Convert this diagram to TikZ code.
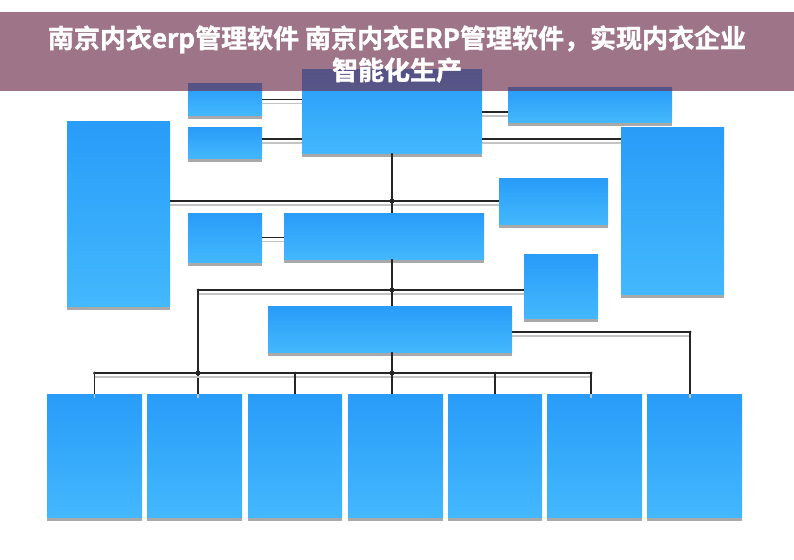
\documentclass[tikz,border=0pt]{standalone}
\usepackage{fontspec}
\newfontfamily\cjk{Noto Sans CJK SC}[BoldFont={* Bold}, BoldFeatures={FakeBold=1.3}]
\usetikzlibrary{calc}
\definecolor{boxtop}{HTML}{289CF8}
\definecolor{boxbot}{HTML}{43B8FD}
\definecolor{shadowgray}{HTML}{A9A9A9}
\definecolor{linedark}{HTML}{262626}
\definecolor{linegray}{HTML}{C4C4C4}
\definecolor{bannercol}{RGB}{109,45,75}
\tikzset{
  box/.style={rectangle, inner sep=0pt, outer sep=0pt, draw=none, top color=boxtop, bottom color=boxbot},
  conn/.style={draw=linedark, line width=1.3pt, preaction={draw=linegray, line width=1.8pt, transform canvas={yshift=-4pt}}},
  vconn/.style={draw=linedark, line width=1.3pt},
  bigdot/.style={circle, fill=linedark, inner sep=0pt, minimum size=5pt},
  smalldot/.style={circle, fill=linedark, inner sep=0pt, minimum size=3pt},
}
\newcommand\bx[5]{%
  \fill[shadowgray] (#2,#5) rectangle (#4,{#5+4});
  \node[box, minimum width={(#4-#2)*1pt}, minimum height={(#5-#3)*1pt}] (#1) at ({(#2+#4)/2},{(#3+#5)/2}) {};
}
\begin{document}
\begin{tikzpicture}[x=1pt,y=-1pt]
\useasboundingbox (0,0) rectangle (794,559);
\fill[white] (0,0) rectangle (794,559);
% boxes
\bx{top}{302}{70}{482}{153}
\bx{s1}{188}{84}{262}{115}
\bx{s2}{188}{127}{262}{158}
\bx{tr}{508}{88}{672}{122}
\bx{rt}{621}{127}{724}{294}
\bx{lt}{67}{121}{170}{306}
\bx{mr}{499}{178}{608}{224}
\bx{ml}{188}{213}{262}{262}
\bx{mc}{284}{213}{484}{259}
\bx{rm}{524}{254}{598}{318}
\bx{lw}{268}{306}{512}{352}
\bx{b1}{47}{394}{142}{517}
\bx{b2}{147}{394}{242}{517}
\bx{b3}{248}{394}{342}{517}
\bx{b4}{348}{394}{443}{517}
\bx{b5}{448}{394}{542}{517}
\bx{b6}{547}{394}{642}{517}
\bx{b7}{647}{394}{742}{517}
% helper coordinates
\coordinate (l2) at ($(s2.east)+(0,-3.5)$);
\coordinate (l3) at ($(top.east)+(0,0.5)$);
\coordinate (l9) at ($(rm.west)+(0,4)$);
\coordinate (l12) at ($(lw.east)+(0,3)$);
\coordinate (d2) at ($(b2.north)+(3.5,0)$);
\coordinate (d6) at ($(b6.north)+(-3.5,0)$);
\coordinate (d7) at ($(b7.north)+(-4.5,0)$);
\coordinate (bus) at (0,373);
% connectors
\draw[conn] (s1.east) -- (s1.east -| top.west);
\draw[conn] (l2) -- (l2 -| top.west);
\draw[conn] (l3) -- (l3 -| tr.west);
\draw[conn] (l2 -| top.east) -- (l2 -| rt.west);
\draw[conn] (mr.west -| lt.east) -- (mr.west);
\draw[conn] (ml.east) -- (ml.east -| mc.west);
\draw[conn] (l9) -- (l9 -| d2) -- (d2);
\draw[conn] (l12) -- (l12 -| d7) -- (d7);
\draw[conn] (b1.north) -- (b1.north |- bus) -- (d6 |- bus) -- (d6);
\draw[vconn] (b3.north |- bus) -- (b3.north);
\draw[vconn] (b5.north |- bus) -- (b5.north);
\draw[vconn] (top.south) -- (top.south |- mc.north);
\draw[vconn] (top.south |- mc.south) -- (top.south |- lw.north);
\draw[vconn] (top.south |- lw.south) -- (top.south |- b4.north);
% junction dots
\node[bigdot] (j1) at (top.south |- mr.west) {};
\node[bigdot] (j2) at (top.south |- l9) {};
\node[bigdot] (j3) at (d2 |- bus) {};
\node[bigdot] (j4) at (top.south |- bus) {};
\node[smalldot] (k1) at (b3.north |- bus) {};
\node[smalldot] (k2) at (b5.north |- bus) {};
\node[smalldot] (k3) at (b1.north |- bus) {};
\node[smalldot] (k4) at (d6 |- bus) {};
\node[smalldot] (k5) at (l9 -| d2) {};
\node[smalldot] (k6) at (l12 -| d7) {};
% banner
\fill[bannercol, opacity=0.66] (0,12) rectangle (794,91);
\node[text=white, align=center, font=\cjk\bfseries\fontsize{26}{32}\selectfont, inner sep=0pt] (title) at (397,54)
  {南京内衣erp管理软件 南京内衣ERP管理软件，实现内衣企业\\智能化生产};
\end{tikzpicture}
\end{document}
